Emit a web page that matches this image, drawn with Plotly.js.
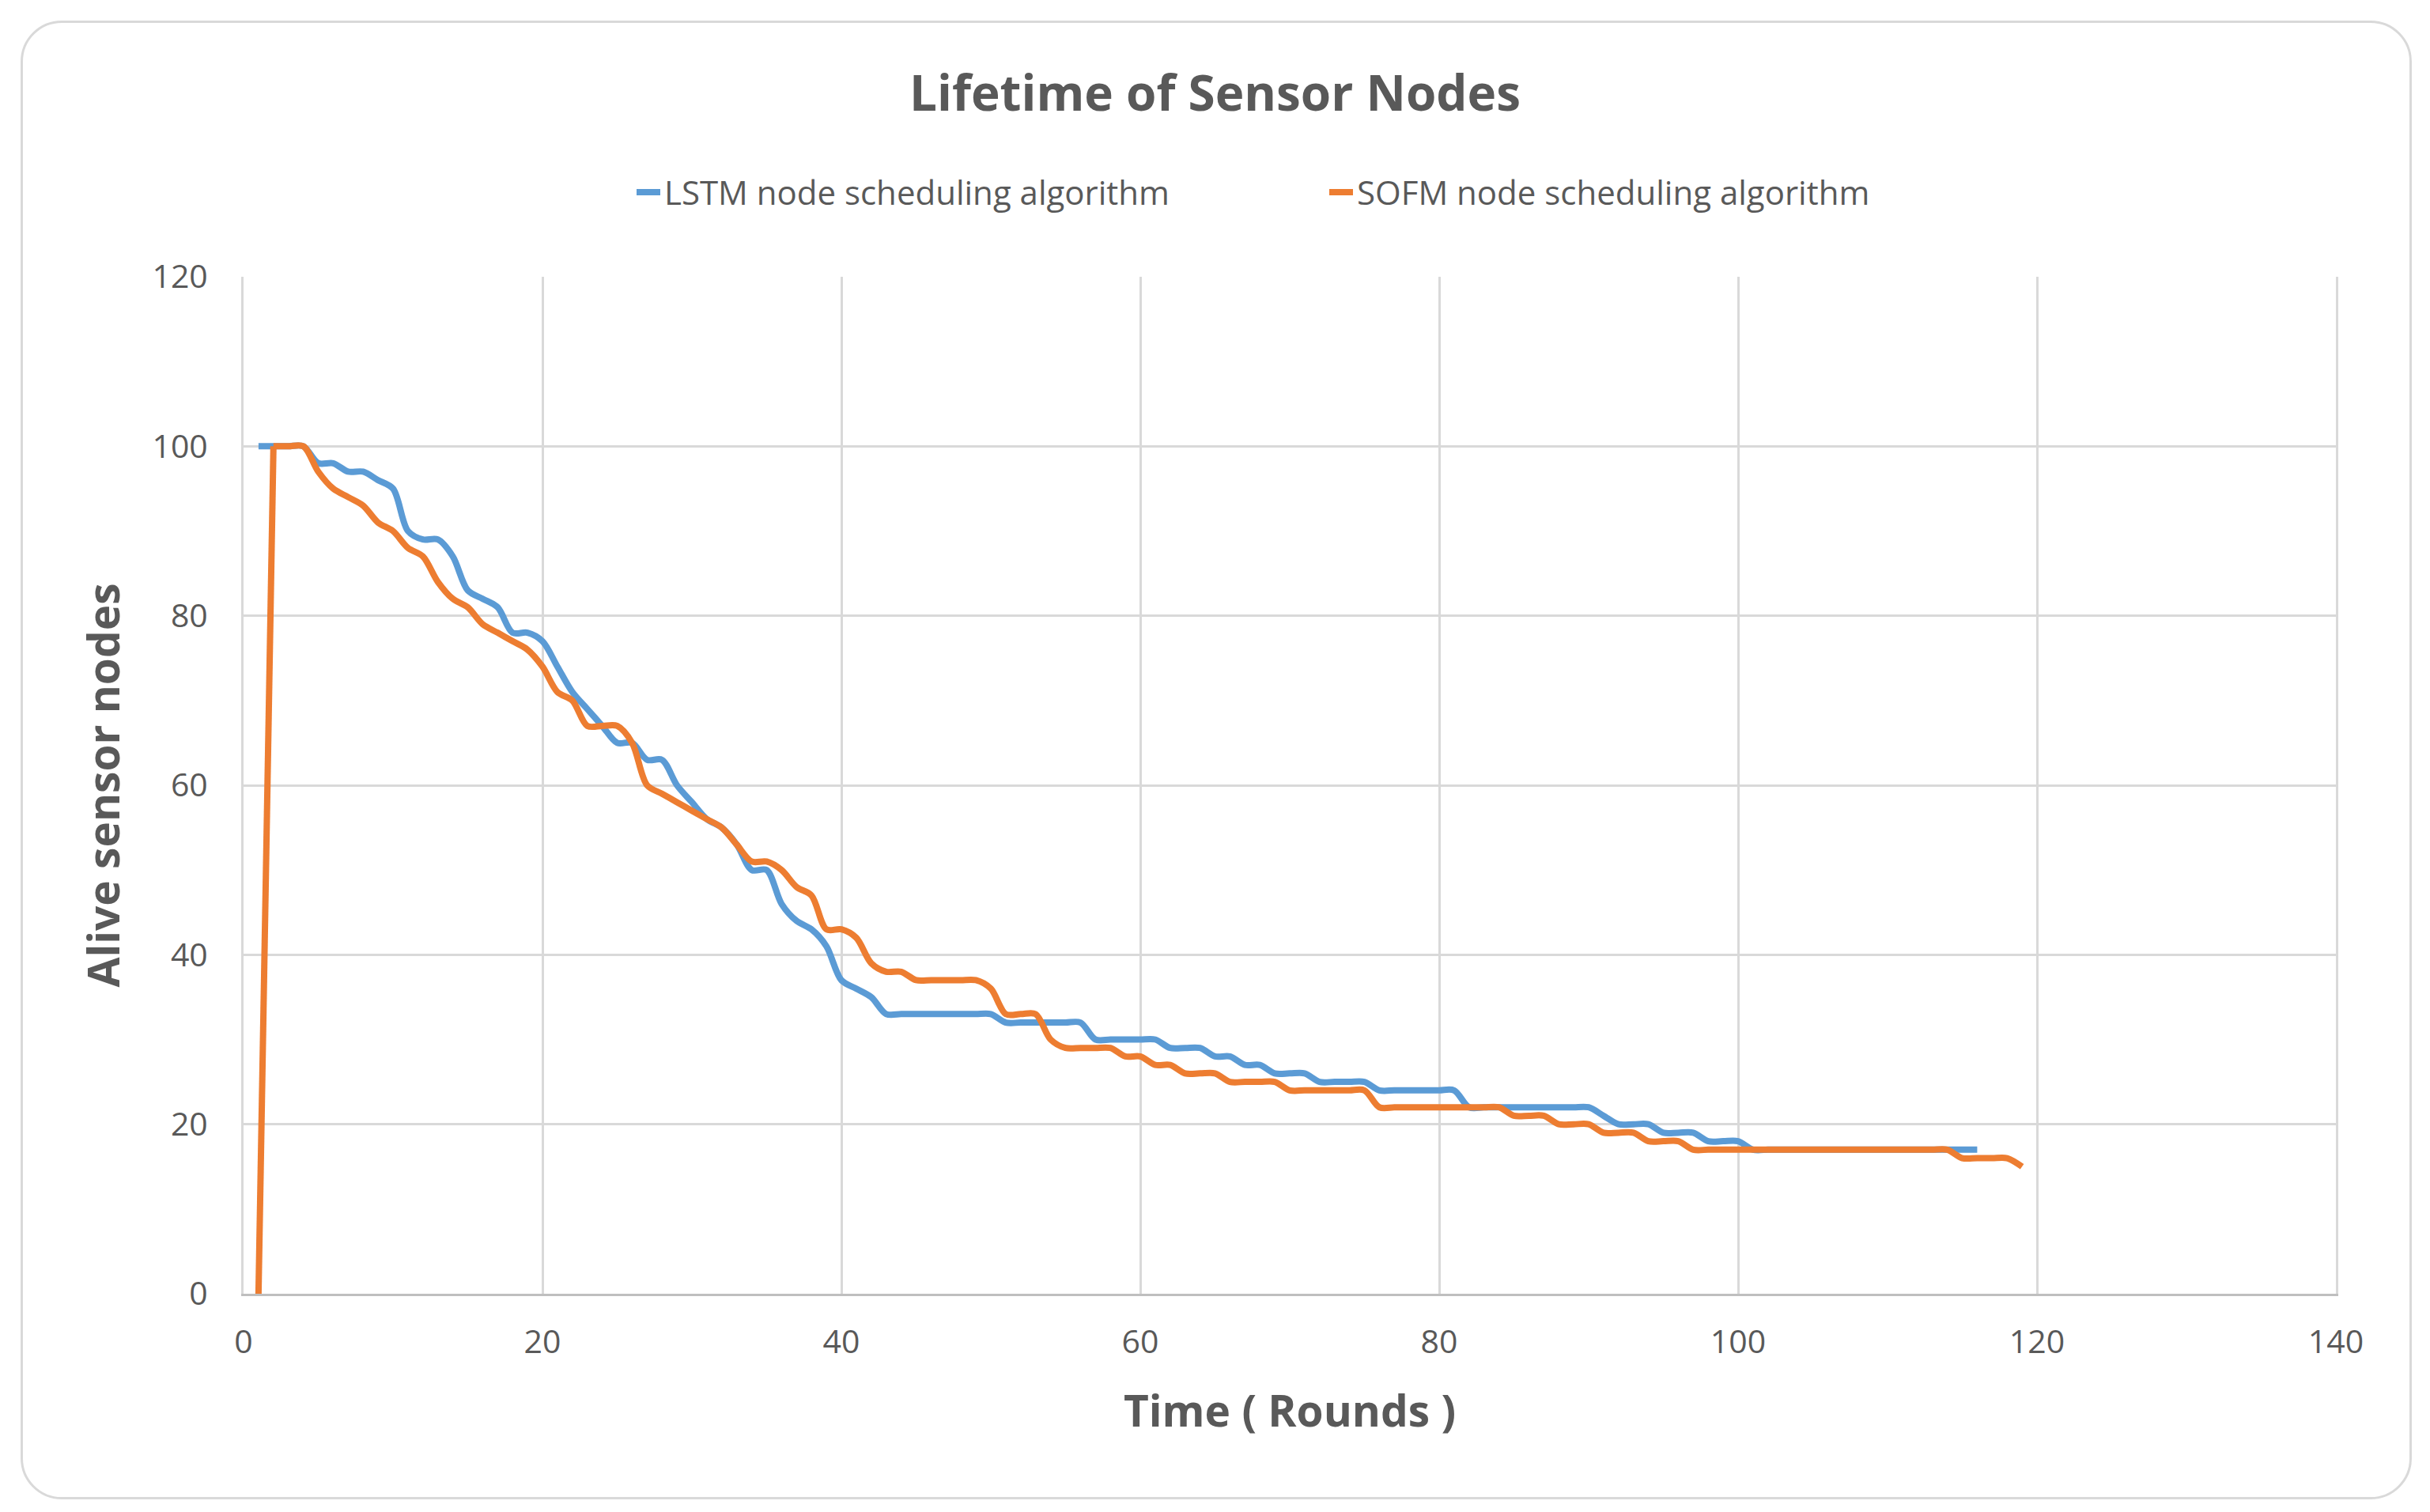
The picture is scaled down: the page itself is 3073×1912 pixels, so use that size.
<!DOCTYPE html>
<html>
<head>
<meta charset="utf-8">
<script src="https://cdn.plot.ly/plotly-3.0.1.min.js"></script>
<style>
  html, body { margin: 0; padding: 0; background: #ffffff; }
  #wrap { position: relative; width: 3073px; height: 1912px; }
  #chart { position: absolute; left: 0; top: 0; width: 3073px; height: 1912px; }
  #frame { position: absolute; left: 26px; top: 26px; width: 3024px; height: 1870px;
           border: 3px solid #d9d9d9; border-radius: 52px; pointer-events: none; box-sizing: border-box; }
</style>
</head>
<body>
<div id="wrap">
  <div id="chart"></div>
  <div id="frame"></div>
</div>
<script>
// Rounds (x) and alive sensor nodes (y)
const lstmRounds = [];
for (let r = 1; r <= 116; r++) lstmRounds.push(r);
const lstmAlive = [
  100,100,100,100,98,98,97,97,96,95,      // 1-10
  90,89,89,87,83,82,81,78,78,77,          // 11-20
  74,71,69,67,65,65,63,63,60,58,          // 21-30
  56,55,53,50,50,46,44,43,41,37,          // 31-40
  36,35,33,33,33,33,33,33,33,33,          // 41-50
  32,32,32,32,32,32,30,30,30,30,          // 51-60
  30,29,29,29,28,28,27,27,26,26,          // 61-70
  26,25,25,25,25,24,24,24,24,24,          // 71-80
  24,22,22,22,22,22,22,22,22,22,          // 81-90
  21,20,20,20,19,19,19,18,18,18,          // 91-100
  17,17,17,17,17,17,17,17,17,17,          // 101-110
  17,17,17,17,17,17                       // 111-116
];

const sofmRounds = [];
for (let r = 1; r <= 119; r++) sofmRounds.push(r);
const sofmAlive = [
  0,100,100,100,97,95,94,93,91,90,        // 1-10
  88,87,84,82,81,79,78,77,76,74,          // 11-20
  71,70,67,67,67,65,60,59,58,57,          // 21-30
  56,55,53,51,51,50,48,47,43,43,          // 31-40
  42,39,38,38,37,37,37,37,37,36,          // 41-50
  33,33,33,30,29,29,29,29,28,28,          // 51-60
  27,27,26,26,26,25,25,25,25,24,          // 61-70
  24,24,24,24,24,22,22,22,22,22,          // 71-80
  22,22,22,22,21,21,21,20,20,20,          // 81-90
  19,19,19,18,18,18,17,17,17,17,          // 91-100
  17,17,17,17,17,17,17,17,17,17,          // 101-110
  17,17,17,17,16,16,16,16,15              // 111-119
];

const seriesNames = ["LSTM node scheduling algorithm", "SOFM node scheduling algorithm"];
const xTicks = [0, 20, 40, 60, 80, 100, 120, 140];
const yTicks = [0, 20, 40, 60, 80, 100, 120];

const font = "Open Sans, Noto Sans, sans-serif";
const textColor = "#595959";
const gridColor = "#d9d9d9";
const blue = "#5B9BD5", orange = "#ED7D31";

const traces = [
  {
    x: lstmRounds, y: lstmAlive, name: seriesNames[0], type: "scatter", mode: "lines",
    line: { color: blue, width: 8, shape: "spline", smoothing: 0.9 }
  },
  {
    // initial rise of the SOFM series (round 1 -> round 2)
    x: sofmRounds.slice(0, 2), y: sofmAlive.slice(0, 2), name: seriesNames[1], type: "scatter", mode: "lines",
    line: { color: orange, width: 8, shape: "linear" }, showlegend: false, legendgroup: "sofm"
  },
  {
    x: sofmRounds.slice(1), y: sofmAlive.slice(1), name: seriesNames[1], type: "scatter", mode: "lines",
    line: { color: orange, width: 8, shape: "spline", smoothing: 0.9 }, legendgroup: "sofm"
  }
];

const layout = {
  width: 3073, height: 1912,
  paper_bgcolor: "rgba(0,0,0,0)", plot_bgcolor: "#ffffff",
  margin: { l: 308, r: 119, t: 350, b: 276, autoexpand: false },
  font: { family: font, color: textColor, size: 40 },
  title: {
    text: "<b>Lifetime of Sensor Nodes</b>",
    font: { family: font, size: 62, color: textColor },
    x: 0.5, xref: "container", xanchor: "center",
    y: 0.938, yref: "container", yanchor: "middle"
  },
  showlegend: true,
  legend: {
    orientation: "h", x: (800 - 308) / 2646, xanchor: "left", y: 1.083, yanchor: "middle",
    font: { family: font, size: 42, color: textColor },
    entrywidth: 831, entrywidthmode: "pixels",
    itemwidth: 30, tracegroupgap: 0, bgcolor: "rgba(0,0,0,0)"
  },
  xaxis: {
    range: [0, 140], tickmode: "array", tickvals: xTicks, ticktext: xTicks.map(String),
    showgrid: true, gridcolor: gridColor, gridwidth: 3,
    zeroline: false,
    showline: true, linecolor: "#bfbfbf", linewidth: 3,
    ticks: "outside", ticklen: 23, tickcolor: "rgba(0,0,0,0)",
    tickfont: { family: font, size: 41, color: textColor },
    title: { text: "<b>Time ( Rounds )</b>", font: { family: font, size: 55, color: textColor }, standoff: 44 },
    automargin: false, fixedrange: true
  },
  yaxis: {
    range: [0, 120], tickmode: "array", tickvals: yTicks, ticktext: yTicks.map(String),
    showgrid: true, gridcolor: gridColor, gridwidth: 3,
    zeroline: false,
    showline: true, linecolor: gridColor, linewidth: 3, mirror: true,
    ticks: "outside", ticklen: 34, tickcolor: "rgba(0,0,0,0)",
    tickfont: { family: font, size: 41, color: textColor },
    title: { text: "<b>Alive sensor nodes</b>", font: { family: font, size: 55, color: textColor }, standoff: 24 },
    automargin: false, fixedrange: true
  }
};

Plotly.newPlot("chart", traces, layout, { staticPlot: true, displayModeBar: false });
</script>
</body>
</html>
